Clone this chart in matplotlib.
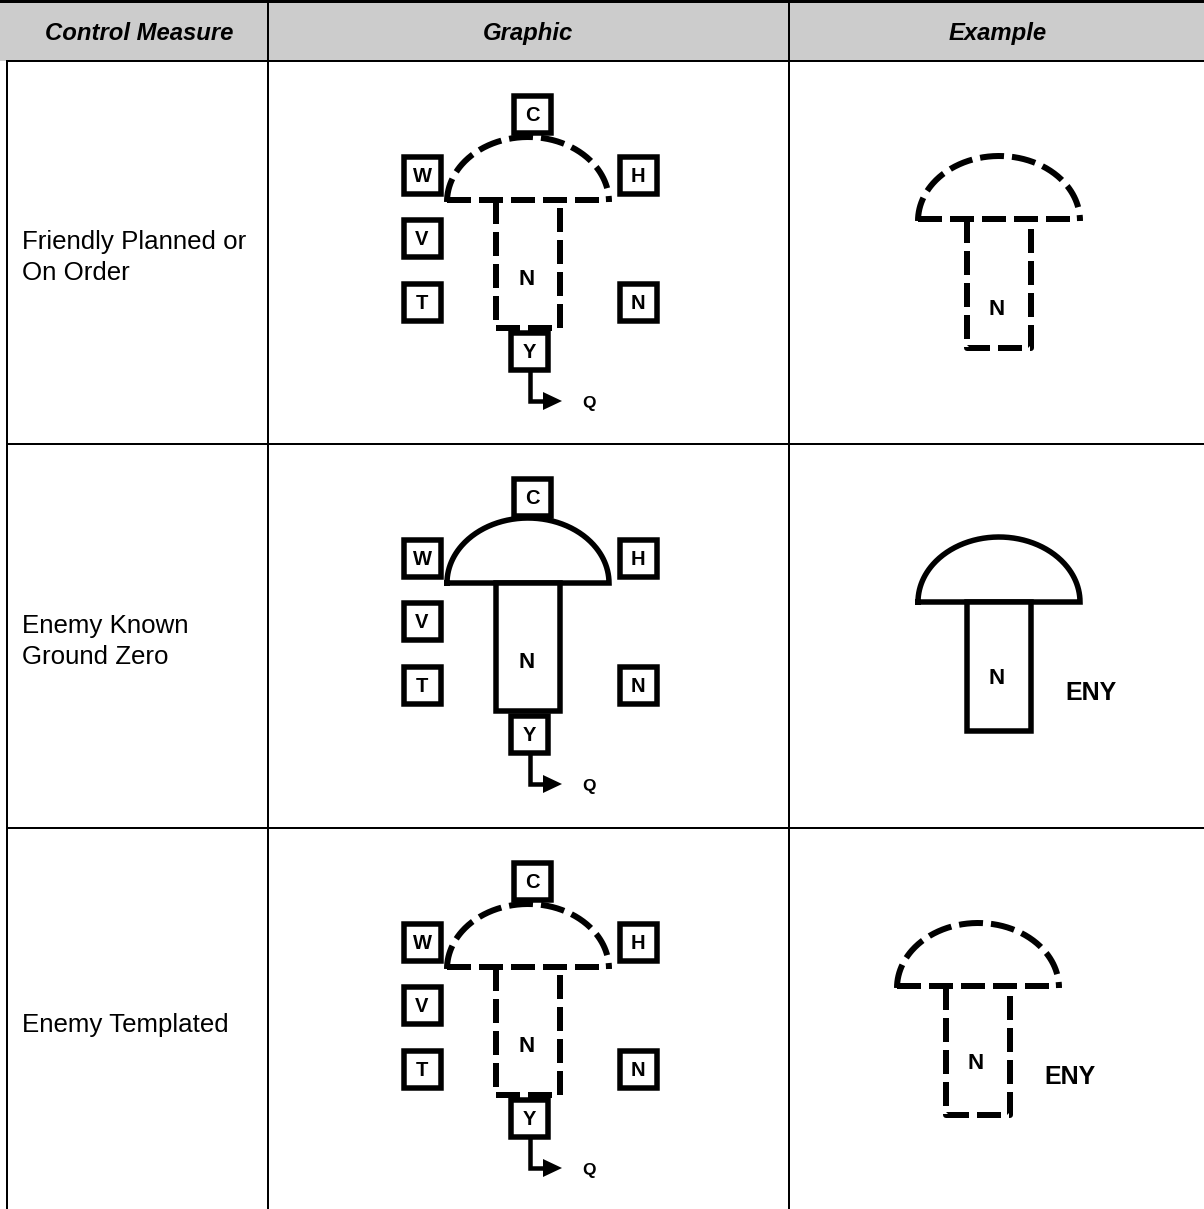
import numpy as np
import matplotlib
matplotlib.use("Agg")
import matplotlib.pyplot as plt
from matplotlib.patches import Rectangle, Polygon

plt.rcParams['font.family'] = ['Liberation Sans', 'DejaVu Sans']

# table content
headers = ["Control Measure", "Graphic", "Example"]
measures = [["Friendly Planned or", "On Order"],
            ["Enemy Known", "Ground Zero"],
            ["Enemy Templated"]]
line_styles = ["dashed", "solid", "dashed"]
example_labels = ["", "ENY", "ENY"]
field_boxes = ["C", "W", "H", "V", "T", "N", "Y"]
center_label = "N"
arrow_label = "Q"

# layout in pixels
col_edges = [7, 268, 789, 1207]
row_edges = [1, 61, 444, 828, 1212]
PT = 0.72  # points per pixel at dpi 100

fig = plt.figure(figsize=(12.04, 12.09), dpi=100)
ax = fig.add_axes([0, 0, 1, 1])
ax.set_xlim(0, 1204)
ax.set_ylim(1209, 0)
ax.axis('off')

LW = 5.5 * PT
DLW = 6.0
DASH = (0, (24 / DLW, 8 / DLW))


def txt(x, y, s, size, bold=False, italic=False, ha='center'):
    # y is the visual middle of the capitals
    cap = 0.716 * size / PT
    ax.text(x, y + cap / 2, s, fontsize=size, ha=ha, va='baseline',
            fontweight='bold' if bold else 'normal',
            fontstyle='italic' if italic else 'normal', color='black',
            zorder=6)


def mushroom(cx, by, style, a=81, b=65, half=32, stem=128):
    t = np.linspace(np.pi, 0, 200)
    xs = cx + a * np.cos(t)
    ys = by - b * np.sin(t)
    if style == "solid":
        ax.fill(xs, ys, color='white', zorder=2)
        ax.plot(np.r_[xs, xs[0]], np.r_[ys, ys[0]], color='black', lw=LW,
                solid_joinstyle='miter', zorder=3)
        ax.add_patch(Rectangle((cx - half, by), 2 * half, stem, fc='white',
                               ec='black', lw=LW, joinstyle='miter', zorder=3))
    else:
        kw = dict(color='black', lw=DLW * PT, ls=DASH, zorder=3)
        ax.plot(xs, ys + 2, **kw)
        ax.plot([cx - a, cx + a - 3], [by, by], **kw)
        ax.plot([cx - half, cx - half, cx + half, cx + half],
                [by, by + stem, by + stem, by + 6], **kw)


# header background and grid
ax.add_patch(Rectangle((0, row_edges[0]), 1204, row_edges[1] - row_edges[0],
                       fc='#cccccc', ec='none', zorder=0))
gl = 2 * PT
ax.plot([0, 1204], [row_edges[0], row_edges[0]], color='black', lw=3 * PT)
for y in row_edges[1:-1]:
    ax.plot([col_edges[0], 1204], [y, y], color='black', lw=gl)
ax.plot([col_edges[0]] * 2, [row_edges[1], 1209], color='black', lw=gl)
for x in col_edges[1:3]:
    ax.plot([x, x], [0, 1209], color='black', lw=gl)

# headers
hx = [139, 528, 998]
for x, h in zip(hx, headers):
    txt(x, 31, h, 17.2, bold=True, italic=True)

# measure names
for i, lines in enumerate(measures):
    top, bot = row_edges[i + 1], row_edges[i + 2]
    mid = (top + bot) / 2 + 3
    n = len(lines)
    for j, s in enumerate(lines):
        y = mid + (j - (n - 1) / 2) * 31
        txt(22, y, s, 18.6, ha='left')

# graphic column
box_off = {"C": (4, -86), "W": (-106, -25), "H": (110, -25), "V": (-106, 38),
           "T": (-106, 102), "N": (110, 102), "Y": (1, 151)}
for i, style in enumerate(line_styles):
    gx, gy = 528, row_edges[i + 1] + 139
    mushroom(gx, gy, style)
    txt(gx - 1, gy + 77, center_label, 16, bold=True)
    for k in field_boxes:
        dx, dy = box_off[k]
        ax.add_patch(Rectangle((gx + dx - 18.5, gy + dy - 18.5), 37, 37,
                               fc='white', ec='black', lw=LW,
                               joinstyle='miter', zorder=4))
        txt(gx + dx, gy + dy, k, 14.5, bold=True)
    ax.plot([gx + 1.5, gx + 1.5, gx + 16], [gy + 173, gy + 201, gy + 201],
            color='black', lw=4.5 * PT, solid_joinstyle='miter', zorder=3)
    ax.add_patch(Polygon([[gx + 15, gy + 192], [gx + 15, gy + 210],
                          [gx + 34, gy + 201]], closed=True, fc='black',
                         ec='none', zorder=3))
    txt(gx + 61, gy + 202, arrow_label, 12.5, bold=True)

# example column
ex_x = [999, 999, 978]
n_off = [88, 74, 75]
for i, style in enumerate(line_styles):
    ex, ey = ex_x[i], row_edges[i + 1] + 158
    mushroom(ex, ey, style, stem=129)
    txt(ex - 2, ey + n_off[i], center_label, 16, bold=True)
    if example_labels[i]:
        txt(ex + 92, ey + 89, example_labels[i], 18, bold=True)

fig.savefig("out.png", dpi=100)
